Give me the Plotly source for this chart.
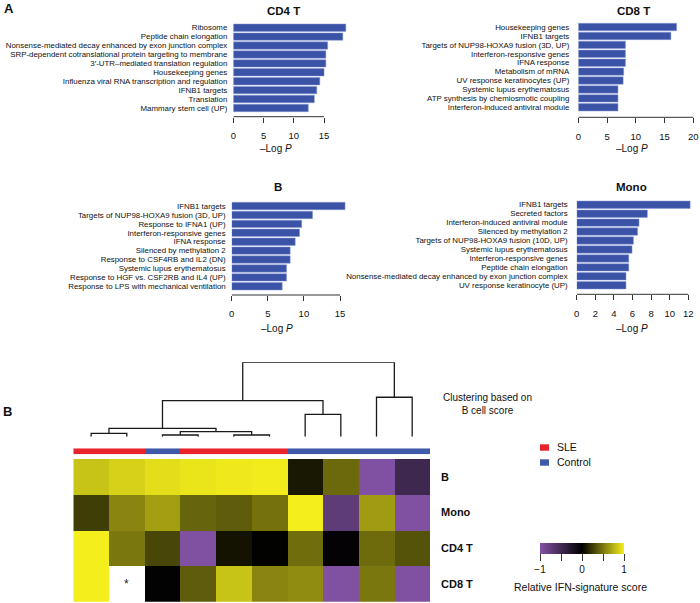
import plotly.graph_objects as go

W, H = 700, 603
FONT = "Liberation Sans, Arial, sans-serif"

# ---------------- data ----------------
cd4_terms = ["Ribosome", "Peptide chain elongation",
             "Nonsense-mediated decay enhanced by exon junction complex",
             "SRP-dependent cotranslational protein targeting to membrane",
             "3′-UTR–mediated translation regulation", "Housekeeping genes",
             "Influenza viral RNA transcription and regulation", "IFNB1 targets",
             "Translation", "Mammary stem cell (UP)"]
cd4_vals = [18.6, 18.1, 15.6, 15.3, 15.3, 15.0, 14.3, 13.8, 13.4, 12.4]

cd8_terms = ["Housekeeping genes", "IFNB1 targets", "Targets of NUP98-HOXA9 fusion (3D, UP)",
             "Interferon-responsive genes", "IFNA response", "Metabolism of mRNA",
             "UV response keratinocytes (UP)", "Systemic lupus erythematosus",
             "ATP synthesis by chemiosmotic coupling", "Interferon-induced antiviral module"]
cd8_vals = [17.1, 16.1, 8.2, 8.2, 8.2, 7.9, 7.8, 6.9, 6.9, 6.9]

b_terms = ["IFNB1 targets", "Targets of NUP98-HOXA9 fusion (3D, UP)", "Response to IFNA1 (UP)",
           "Interferon-responsive genes", "IFNA response", "Silenced by methylation 2",
           "Response to CSF4RB and IL2 (DN)", "Systemic lupus erythematosus",
           "Response to HGF vs. CSF2RB and IL4 (UP)", "Response to LPS with mechanical ventilation"]
b_vals = [15.7, 11.2, 9.7, 9.4, 8.8, 8.1, 8.1, 7.6, 7.6, 7.0]

mono_terms = ["IFNB1 targets", "Secreted factors", "Interferon-induced antiviral module",
              "Silenced by methylation 2", "Targets of NUP98-HOXA9 fusion (10D, UP)",
              "Systemic lupus erythematosus", "Interferon-responsive genes",
              "Peptide chain elongation",
              "Nonsense-mediated decay enhanced by exon junction complex",
              "UV response keratinocyte (UP)"]
mono_vals = [12.2, 7.6, 6.7, 6.55, 6.1, 5.95, 5.6, 5.6, 5.3, 5.3]

panel_titles = ["CD4 T", "CD8 T", "B", "Mono"]
cd4_ticks = [0, 5, 10, 15]
cd8_ticks = [0, 5, 10, 15, 20]
b_ticks = [0, 5, 10, 15]
mono_ticks = [0, 2, 4, 6, 8, 10, 12]

# heatmap
cell_rows = ["B", "Mono", "CD4 T", "CD8 T"]
sample_groups = ["SLE", "SLE", "Control", "SLE", "SLE", "SLE",
                 "Control", "Control", "Control", "Control"]
score_B = [0.82, 0.88, 0.93, 0.96, 0.98, 0.99, 0.10, 0.44, -0.98, -0.48]
score_Mono = [0.26, 0.56, 0.67, 0.42, 0.39, 0.48, 1.0, -0.72, 0.65, -0.97]
score_CD4 = [1.0, 0.50, 0.30, -0.97, 0.08, 0.01, 0.46, -0.03, 0.45, 0.35]
score_CD8 = [1.0, None, -0.02, 0.39, 0.82, 0.56, 0.59, -0.97, 0.50, -0.97]

# dendrogram linkage: (left node, right node, height); leaves 0..9, new nodes 10..
linkage = [(0, 1, 0.046), (2, 3, 0.023), (4, 5, 0.023), (11, 12, 0.067),
           (10, 13, 0.113), (6, 7, 0.30), (14, 15, 0.484), (8, 9, 0.53),
           (16, 17, 1.0)]

cbar_tickvals = [-1, -0.5, 0, 0.5, 1]
cbar_ticktext = ["−1", "", "0", "", "1"]

# ---------------- helpers ----------------
def px_x(p):
    return p / W

def px_y(p):
    return 1 - p / H

BAR_COLOR = "#3b53a6"
GAP = 0.17

fig = go.Figure()
layout = dict(width=W, height=H, margin=dict(l=0, r=0, t=0, b=0),
              paper_bgcolor="white", plot_bgcolor="white", template="none",
              showlegend=False, bargap=GAP, font=dict(family=FONT, color="#111"))
annotations = []
shapes = []

panels = [
    dict(terms=cd4_terms, vals=cd4_vals, ticks=cd4_ticks, x0=233.3, unit=6.05, xmax=19.2,
         top=24.0, bot=111.7, axis=116.7, title=(283, 11), xlab=(276, 148.3), stand=5),
    dict(terms=cd8_terms, vals=cd8_vals, ticks=cd8_ticks, x0=578.3, unit=5.75, xmax=20.3,
         top=23.3, bot=111.0, axis=117.3, title=(633, 11), xlab=(631.7, 148.3), stand=8),
    dict(terms=b_terms, vals=b_vals, ticks=b_ticks, x0=231.7, unit=7.22, xmax=16.0,
         top=202.3, bot=290.0, axis=295.0, title=(278, 186.7), xlab=(276.7, 328.3), stand=5),
    dict(terms=mono_terms, vals=mono_vals, ticks=mono_ticks, x0=576.7, unit=9.3, xmax=12.4,
         top=201.0, bot=289.0, axis=294.3, title=(631.7, 186.7), xlab=(632, 328.3), stand=8),
]

for i, p in enumerate(panels):
    n = i + 1
    sfx = "" if n == 1 else str(n)
    fig.add_trace(go.Bar(x=p["vals"], y=p["terms"], orientation="h",
                         marker=dict(color=BAR_COLOR, line=dict(color="#8a9bd8", width=0.5)),
                         xaxis="x" + sfx, yaxis="y" + sfx, hoverinfo="x+y"))
    slot = (p["bot"] - p["top"]) / (len(p["terms"]) - GAP)
    c0 = p["top"] + slot * (1 - GAP) / 2
    top_px = c0 - 0.6 * slot
    bot_val = (p["axis"] - c0) / slot
    layout["xaxis" + sfx] = dict(
        domain=[px_x(p["x0"]), px_x(p["x0"] + p["unit"] * p["xmax"])],
        range=[0, p["xmax"]], anchor="y" + sfx, showgrid=False, zeroline=False,
        showline=False, ticks="outside", ticklen=5, tickwidth=1, tickcolor="#333",
        tickmode="array", tickvals=p["ticks"], ticktext=[str(t) for t in p["ticks"]],
        tickfont=dict(size=9.5, family=FONT, color="#111"), ticklabelstandoff=5,
        automargin=False)
    layout["yaxis" + sfx] = dict(
        domain=[px_y(p["axis"]), px_y(top_px)], type="category",
        categoryorder="array", categoryarray=p["terms"],
        tickmode="array", tickvals=p["terms"], ticktext=p["terms"],
        range=[bot_val, -0.6], anchor="x" + sfx, showgrid=False, zeroline=False,
        showline=False, ticks="", tickfont=dict(size=7.9, family=FONT, color="#111"),
        ticklabelstandoff=p["stand"], automargin=False)
    shapes.append(dict(type="line", xref="x" + sfx, yref="y" + sfx + " domain",
                       x0=p["ticks"][0], x1=p["ticks"][-1], y0=0, y1=0,
                       line=dict(color="#333", width=1)))
    annotations.append(dict(text="<b>%s</b>" % panel_titles[i], x=px_x(p["title"][0]),
                            y=px_y(p["title"][1]), xref="paper", yref="paper",
                            showarrow=False, xanchor="center", yanchor="middle",
                            font=dict(size=11.5, family=FONT, color="#111")))
    annotations.append(dict(text="–Log <i>P</i>", x=px_x(p["xlab"][0]),
                            y=px_y(p["xlab"][1]), xref="paper", yref="paper",
                            showarrow=False, xanchor="center", yanchor="middle",
                            font=dict(size=10, family=FONT, color="#111")))

# ---------------- heatmap ----------------
HX0, HX1 = 73.3, 430.0
HY0, HY1 = 459.0, 601.7
z = [score_B, score_Mono, score_CD4, score_CD8]
ncol = len(sample_groups)
fig.add_trace(go.Heatmap(
    z=z, x=list(range(ncol)), y=cell_rows, zmin=-1, zmax=1,
    colorscale=[[0, "#8353a5"], [0.5, "#000000"], [1, "#f4ee1c"]],
    xaxis="x5", yaxis="y5",
    colorbar=dict(orientation="h", x=px_x(582), xanchor="center", y=px_y(543.3),
                  yanchor="top", len=84, lenmode="pixels", thickness=11,
                  thicknessmode="pixels", xpad=0, ypad=0, outlinewidth=0,
                  ticks="outside", ticklen=7, tickwidth=1, tickcolor="#333",
                  tickmode="array", tickvals=cbar_tickvals, ticktext=cbar_ticktext,
                  tickfont=dict(size=10, family=FONT, color="#111"))))
layout["xaxis5"] = dict(domain=[px_x(HX0), px_x(HX1)], range=[-0.5, ncol - 0.5],
                        anchor="y5", visible=False)
layout["yaxis5"] = dict(domain=[px_y(HY1), px_y(HY0)], type="category",
                        categoryorder="array", categoryarray=cell_rows,
                        autorange="reversed", anchor="x5", side="right",
                        showgrid=False, zeroline=False, showline=False, ticks="",
                        tickmode="array", tickvals=cell_rows,
                        ticktext=["<b>%s</b>" % r for r in cell_rows],
                        tickfont=dict(size=11, family=FONT, color="#111"),
                        ticklabelstandoff=10, automargin=False)
annotations.append(dict(text="Relative IFN-signature score", x=px_x(580), y=px_y(586.5),
                        xref="paper", yref="paper", showarrow=False, xanchor="center",
                        yanchor="middle", font=dict(size=10.5, family=FONT, color="#111")))
# missing value marker
for ri, row in enumerate(z):
    for ci, v in enumerate(row):
        if v is None:
            annotations.append(dict(text="*", x=ci, y=cell_rows[ri], xref="x5", yref="y5",
                                    showarrow=False, font=dict(size=12, family=FONT, color="#222")))

# group color bar
grp_code = [1 if g == "SLE" else 0 for g in sample_groups]
fig.add_trace(go.Heatmap(z=[grp_code], x=list(range(ncol)), y=[0], zmin=0, zmax=1,
                         colorscale=[[0, "#3f5aa8"], [0.5, "#3f5aa8"], [0.5, "#e8232b"], [1, "#e8232b"]],
                         showscale=False, xaxis="x6", yaxis="y6", hoverinfo="skip"))
layout["xaxis6"] = dict(domain=[px_x(HX0), px_x(HX1)], range=[-0.5, ncol - 0.5],
                        anchor="y6", visible=False)
layout["yaxis6"] = dict(domain=[px_y(454.3), px_y(448.3)], range=[-0.5, 0.5],
                        anchor="x6", visible=False)

# dendrogram
node_x = {i: float(i) for i in range(ncol)}
node_h = {i: 0.0 for i in range(ncol)}
dx, dy = [], []
for k, (a, b, h) in enumerate(linkage):
    nid = ncol + k
    dx += [node_x[a], node_x[a], node_x[b], node_x[b], None]
    dy += [node_h[a], h, h, node_h[b], None]
    node_x[nid] = (node_x[a] + node_x[b]) / 2
    node_h[nid] = h
fig.add_trace(go.Scatter(x=dx, y=dy, mode="lines", line=dict(color="#1a1a1a", width=1.3),
                         xaxis="x7", yaxis="y7", hoverinfo="skip"))
layout["xaxis7"] = dict(domain=[px_x(HX0), px_x(HX1)], range=[-0.5, ncol - 0.5],
                        anchor="y7", visible=False)
layout["yaxis7"] = dict(domain=[px_y(436.7), px_y(362.3)], range=[0, 1],
                        anchor="x7", visible=False)

# legend keys
legend_items = [("SLE", "#e8232b", 447.5), ("Control", "#3f5aa8", 462.5)]
for name, col, yc in legend_items:
    shapes.append(dict(type="rect", xref="paper", yref="paper",
                       x0=px_x(540), x1=px_x(549), y0=px_y(yc - 3.2), y1=px_y(yc + 3.2),
                       fillcolor=col, line=dict(width=0)))
    annotations.append(dict(text=name, x=px_x(555), y=px_y(yc - 0.5), xref="paper", yref="paper",
                            showarrow=False, xanchor="left", yanchor="middle",
                            font=dict(size=10.5, family=FONT, color="#111")))

annotations.append(dict(text="Clustering based on<br>B cell score", x=px_x(487), y=px_y(404),
                        xref="paper", yref="paper", showarrow=False, xanchor="center",
                        yanchor="middle", align="center",
                        font=dict(size=10, family=FONT, color="#111")))
annotations.append(dict(text="<b>A</b>", x=px_x(2), y=px_y(8), xref="paper", yref="paper",
                        showarrow=False, xanchor="left", yanchor="middle",
                        font=dict(size=13, family=FONT, color="#111")))
annotations.append(dict(text="<b>B</b>", x=px_x(1), y=px_y(411), xref="paper", yref="paper",
                        showarrow=False, xanchor="left", yanchor="middle",
                        font=dict(size=13, family=FONT, color="#111")))

layout["annotations"] = annotations
layout["shapes"] = shapes
fig.update_layout(**layout)
fig.write_html("out.html", config={"displayModeBar": False},
               post_script="document.body.style.margin='0';document.body.style.overflow='hidden';")
